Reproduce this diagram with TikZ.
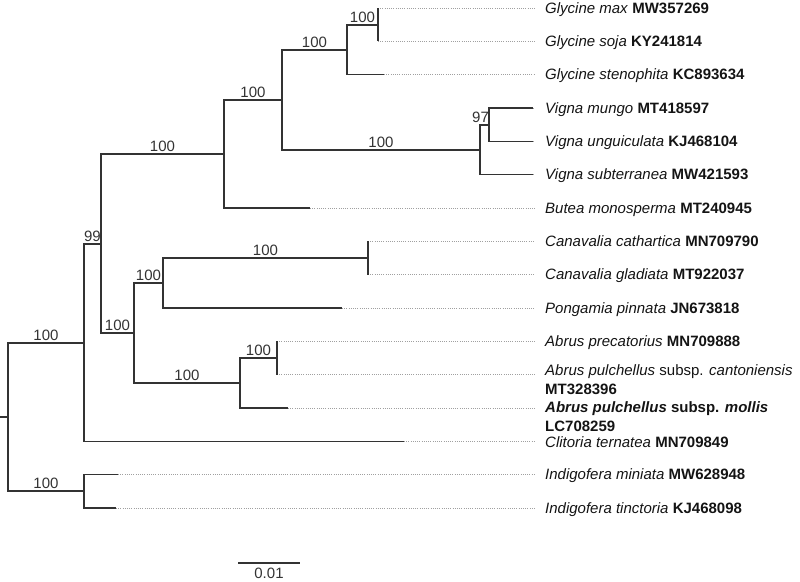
\documentclass[tikz,border=0pt]{standalone}
\usepackage{fontspec}
\setmainfont{Liberation Sans}
\usepackage{tikz}

\definecolor{branchgray}{HTML}{333333}
\definecolor{dotgray}{HTML}{A0A0A0}
\definecolor{labelblack}{HTML}{141414}

\begin{document}
\begin{tikzpicture}[x=1pt, y=-1pt,
    branch/.style={draw=branchgray, line width=1.2pt},
    leafdot/.style={draw=dotgray, line width=0.7pt, dash pattern=on 1pt off 1.2pt},
    bs/.style={pos=0.75, anchor=south, inner sep=1.5pt, text=branchgray, font=\fontsize{15}{17}\selectfont},
    leaf/.style={anchor=base west, yshift=-5pt, inner xsep=10pt, inner ysep=0pt, text=labelblack, font=\fontsize{15}{19}\selectfont},
    leaftwo/.style={anchor=north west, inner xsep=10pt, inner ysep=0pt, align=left, text=labelblack, font=\fontsize{15}{19}\selectfont}]
            \useasboundingbox (0,0) rectangle (800,581);

            % root
            \coordinate (r0) at (0,417);
            \coordinate (r) at (8,417);

            % internal nodes
            \coordinate (a) at (84,343);
            \coordinate (b) at (101,244);
            \coordinate (c) at (224,154);
            \coordinate (e) at (282,100);
            \coordinate (f) at (347,50);
            \coordinate (h) at (378,25);
            \coordinate (g) at (480,150);
            \coordinate (v) at (489,125);
            \coordinate (d) at (134,333);
            \coordinate (k) at (163,283);
            \coordinate (p) at (368,258);
            \coordinate (m) at (240,383);
            \coordinate (n) at (277,358);
            \coordinate (i) at (84,491);

            % leaf tips
            \coordinate (t1) at (378,8);
            \coordinate (t2) at (378,41.3);
            \coordinate (t3) at (384,74.7);
            \coordinate (t4) at (533,108);
            \coordinate (t5) at (533,141.3);
            \coordinate (t6) at (533,174.7);
            \coordinate (t7) at (310,208);
            \coordinate (t8) at (368,241.3);
            \coordinate (t9) at (368,274.7);
            \coordinate (t10) at (342,308);
            \coordinate (t11) at (277,341.3);
            \coordinate (t12) at (277,374.7);
            \coordinate (t13) at (288,408);
            \coordinate (t14) at (404,441.3);
            \coordinate (t15) at (118,474.7);
            \coordinate (t16) at (116,508);

            % leaf labels
            \node[leaf] (l1) at (535,8) {\textit{Glycine max} \textbf{MW357269}};
            \node[leaf] (l2) at (535,41.3) {\textit{Glycine soja} \textbf{KY241814}};
            \node[leaf] (l3) at (535,74.7) {\textit{Glycine stenophita} \textbf{KC893634}};
            \node[leaf] (l4) at (535,108) {\textit{Vigna mungo} \textbf{MT418597}};
            \node[leaf] (l5) at (535,141.3) {\textit{Vigna unguiculata} \textbf{KJ468104}};
            \node[leaf] (l6) at (535,174.7) {\textit{Vigna subterranea} \textbf{MW421593}};
            \node[leaf] (l7) at (535,208) {\textit{Butea monosperma} \textbf{MT240945}};
            \node[leaf] (l8) at (535,241.3) {\textit{Canavalia cathartica} \textbf{MN709790}};
            \node[leaf] (l9) at (535,274.7) {\textit{Canavalia gladiata} \textbf{MT922037}};
            \node[leaf] (l10) at (535,308) {\textit{Pongamia pinnata} \textbf{JN673818}};
            \node[leaf] (l11) at (535,341.3) {\textit{Abrus precatorius} \textbf{MN709888}};
            \node[leaftwo] (l12) at (535,364.6) {\textit{Abrus pulchellus} subsp. \textit{cantoniensis}\\\textbf{MT328396}};
            \node[leaftwo] (l13) at (535,401.6) {\textbf{\textit{Abrus pulchellus} subsp. \textit{mollis}}\\\textbf{LC708259}};
            \node[leaf] (l14) at (535,442.5) {\textit{Clitoria ternatea} \textbf{MN709849}};
            \node[leaf] (l15) at (535,474.7) {\textit{Indigofera miniata} \textbf{MW628948}};
            \node[leaf] (l16) at (535,508) {\textit{Indigofera tinctoria} \textbf{KJ468098}};

            % dotted leaders
            \foreach \t/\l in {t1/l1, t2/l2, t3/l3, t4/l4, t5/l5, t6/l6, t7/l7, t8/l8,
                               t9/l9, t10/l10, t11/l11, t12/l12, t13/l13, t14/l14, t15/l15, t16/l16}
                \draw[leafdot] (\t) -- (\t -| \l.west);

            % root split
            \draw[branch] (r0) -- (r);
            \draw[branch] (r) |- node[bs] {100} (a);
            \draw[branch] (r) |- node[bs] {100} (i);

            % Indigofera
            \draw[branch] (i) |- (t15);
            \draw[branch] (i) |- (t16);

            % Clitoria and the rest
            \draw[branch] (a) |- node[bs] {99} (b);
            \draw[branch] (a) |- (t14);

            % Glycine, Vigna, Butea
            \draw[branch] (b) |- node[bs] {100} (c);
            \draw[branch] (c) |- node[bs] {100} (e);
            \draw[branch] (c) |- (t7);
            \draw[branch] (e) |- node[bs] {100} (f);
            \draw[branch] (e) |- node[bs] {100} (g);
            \draw[branch] (f) |- node[bs] {100} (h);
            \draw[branch] (f) |- (t3);
            \draw[branch] (h) |- (t1);
            \draw[branch] (h) |- (t2);
            \draw[branch] (g) |- node[bs, xshift=-4pt] {97} (v);
            \draw[branch] (g) |- (t6);
            \draw[branch] (v) |- (t4);
            \draw[branch] (v) |- (t5);

            % Canavalia, Pongamia, Abrus
            \draw[branch] (b) |- node[bs] {100} (d);
            \draw[branch] (d) |- node[bs] {100} (k);
            \draw[branch] (d) |- node[bs] {100} (m);
            \draw[branch] (k) |- node[bs] {100} (p);
            \draw[branch] (k) |- (t10);
            \draw[branch] (p) |- (t8);
            \draw[branch] (p) |- (t9);
            \draw[branch] (m) |- node[bs] {100} (n);
            \draw[branch] (m) |- (t13);
            \draw[branch] (n) |- (t11);
            \draw[branch] (n) |- (t12);

            % scale bar
            \coordinate (s1) at (238,563);
            \coordinate (s2) at (300,563);
            \draw[branch] (s1) -- node[anchor=north, inner sep=4.5pt, text=branchgray, font=\fontsize{15}{17}\selectfont] {0.01} (s2);
        \end{tikzpicture}
\end{document}
